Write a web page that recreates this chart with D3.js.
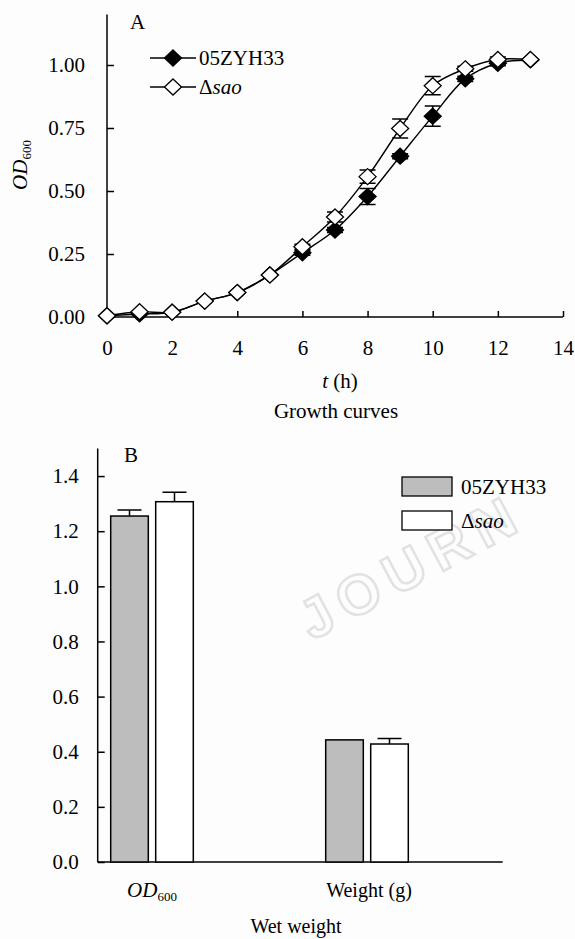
<!DOCTYPE html>
<meta charset="utf-8">
<body style="margin:0;background:#fdfdfd">
<style>
svg text { font-family: "Liberation Serif", "Times New Roman", Times, "DejaVu Serif", serif; font-size: 21px; fill: #000; }
.axis path, .axis line { stroke: #000; stroke-width: 1.5px; }
.axis text { font-family: "Liberation Serif", "Times New Roman", Times, "DejaVu Serif", serif; font-size: 21px; }
.curve { fill: none; stroke: #000; stroke-width: 1.4px; }
.err { stroke: #000; stroke-width: 1.5px; fill: none; }
</style>
<script src="https://cdn.jsdelivr.net/npm/d3@7"></script>
<script>

// growth curves (panel A)
var hours = [0, 1, 2, 3, 4, 5, 6, 7, 8, 9, 10, 11, 12, 13];
var wt = [0.005, 0.012, 0.019, 0.063, 0.097, 0.167, 0.255, 0.345, 0.478, 0.638, 0.797, 0.945, 1.007, 1.02];
var wtSd = [0, 0, 0, 0, 0, 0, 0.01, 0.01, 0.032, 0.01, 0.04, 0.01, 0.01, 0];
var mut = [0.005, 0.021, 0.019, 0.063, 0.097, 0.167, 0.279, 0.397, 0.557, 0.748, 0.918, 0.985, 1.022, 1.022];
var mutSd = [0, 0, 0, 0, 0, 0, 0.01, 0.02, 0.026, 0.038, 0.036, 0.01, 0.01, 0];
var xTicks = [0, 2, 4, 6, 8, 10, 12, 14];
var yTicksA = [0, 0.25, 0.5, 0.75, 1];

// wet weight (panel B)
var groups = ["OD600", "Weight"];
var strains = ["05ZYH33", "sao"];
var barWt = [1.255, 0.443];
var barWtSd = [0.022, 0];
var barMut = [1.307, 0.428];
var barMutSd = [0.034, 0.02];
var yTicksB = [0, 0.2, 0.4, 0.6, 0.8, 1.0, 1.2, 1.4];

var svg = d3.select("body").append("svg")
    .attr("width", 575)
    .attr("height", 939);

// faint watermark
svg.append("text")
    .attr("transform", "translate(312,641) rotate(-28)")
    .style("font-family", "'Liberation Sans', Arial, sans-serif")
    .style("font-weight", "900")
    .style("font-size", "56px")
    .style("letter-spacing", "10px")
    .style("fill", "#fdfdfd")
    .style("stroke", "#e2e2e2")
    .style("stroke-width", "2.5px")
    .text("JOURN");

function diamond(w, h) {
  return "M0," + (-h) + "L" + w + ",0L0," + h + "L" + (-w) + ",0Z";
}

// ---------- panel A ----------
var x = d3.scaleLinear().domain([0, 14]).range([107, 563]);
var y = d3.scaleLinear().domain([0, 1.2]).range([317, 14.6]);

svg.append("g").attr("class", "axis")
    .attr("transform", "translate(0," + y(0) + ")")
    .call(d3.axisBottom(x).tickValues(xTicks).tickSizeInner(-6).tickSizeOuter(0).tickPadding(23))
    .call(function(g) { g.select(".domain").attr("d", "M" + x(0) + ",0H" + x(14)); });

svg.append("g").attr("class", "axis")
    .attr("transform", "translate(" + x(0) + ",0)")
    .call(d3.axisLeft(y).tickValues(yTicksA).tickFormat(d3.format(".2f")).tickSizeInner(-7).tickSizeOuter(0).tickPadding(22))
    .call(function(g) { g.select(".domain").attr("d", "M0," + y(0) + "V" + y(1.2)); });

var line = d3.line()
    .x(function(d, i) { return x(hours[i]); })
    .y(function(d) { return y(d); })
    .curve(d3.curveCatmullRom.alpha(0.5));

var series = [
  {vals: wt, sd: wtSd, fill: "#000"},
  {vals: mut, sd: mutSd, fill: "#fff"}
];

series.forEach(function(s) {
  svg.append("path").datum(s.vals).attr("class", "curve").attr("d", line);
});

series.forEach(function(s) {
  var eb = svg.append("g");
  s.vals.forEach(function(v, i) {
    if (!s.sd[i]) return;
    var cx = x(hours[i]), t = y(v + s.sd[i]), b = y(v - s.sd[i]);
    eb.append("path").attr("class", "err")
      .attr("d", "M" + cx + "," + t + "V" + b + "M" + (cx - 8) + "," + t + "H" + (cx + 8) + "M" + (cx - 8) + "," + b + "H" + (cx + 8));
  });
});

series.forEach(function(s) {
  svg.append("g").selectAll("path")
    .data(s.vals)
    .enter().append("path")
    .attr("d", diamond(8.5, 8))
    .attr("transform", function(d, i) { return "translate(" + x(hours[i]) + "," + y(d) + ")"; })
    .style("fill", s.fill)
    .style("stroke", "#000")
    .style("stroke-width", 1.3);
});

svg.append("text").attr("x", 130).attr("y", 29).text("A");

// legend A
[{fill: "#000", label: "05ZYH33"}, {fill: "#fff", label: "sao"}].forEach(function(d, i) {
  var ly = 58 + i * 29;
  svg.append("line").attr("x1", 150).attr("x2", 196).attr("y1", ly).attr("y2", ly)
    .style("stroke", "#000").style("stroke-width", 1.4);
  svg.append("path").attr("d", diamond(8.5, 8)).attr("transform", "translate(173," + ly + ")")
    .style("fill", d.fill).style("stroke", "#000").style("stroke-width", 1.3);
  var t = svg.append("text").attr("x", 199).attr("y", ly).attr("dy", "0.35em");
  if (i === 0) t.text(d.label);
  else { t.append("tspan").text("\u0394"); t.append("tspan").style("font-style", "italic").text(d.label); }
});

// axis titles A
var yl = svg.append("text").attr("transform", "translate(27,165) rotate(-90)").attr("text-anchor", "middle");
yl.append("tspan").style("font-style", "italic").text("OD");
yl.append("tspan").attr("dy", 4).style("font-size", "13px").text("600");

var xl = svg.append("text").attr("x", 340).attr("y", 388).attr("text-anchor", "middle");
xl.append("tspan").style("font-style", "italic").text("t");
xl.append("tspan").text(" (h)");
svg.append("text").attr("x", 336).attr("y", 418).attr("text-anchor", "middle").text("Growth curves");

// ---------- panel B ----------
var y2 = d3.scaleLinear().domain([0, 1.5]).range([862, 448.5]);
var gx = d3.scalePoint().domain(groups).range([152, 367]);
var sx = d3.scaleBand().domain(strains).range([-41.3, 41.3]).paddingInner(0.1644);

svg.append("g").attr("class", "axis")
    .attr("transform", "translate(97.7,0)")
    .call(d3.axisLeft(y2).tickValues(yTicksB).tickFormat(d3.format(".1f")).tickSizeInner(-7).tickSizeOuter(0).tickPadding(19))
    .call(function(g) { g.select(".domain").attr("d", "M0," + y2(0) + "V" + y2(1.5)); });

svg.append("line").attr("x1", 97.7).attr("x2", 502.7).attr("y1", y2(0)).attr("y2", y2(0))
    .style("stroke", "#000").style("stroke-width", 1.5);

var barSeries = [
  {key: "05ZYH33", vals: barWt, sd: barWtSd, fill: "#bdbdbd"},
  {key: "sao", vals: barMut, sd: barMutSd, fill: "#fff"}
];

barSeries.forEach(function(s) {
  var g = svg.append("g");
  g.selectAll("rect").data(s.vals).enter().append("rect")
    .attr("x", function(d, i) { return gx(groups[i]) + sx(s.key); })
    .attr("width", sx.bandwidth())
    .attr("y", function(d) { return y2(d); })
    .attr("height", function(d) { return y2(0) - y2(d); })
    .style("fill", s.fill).style("stroke", "#000").style("stroke-width", 1.5);
  s.vals.forEach(function(v, i) {
    if (!s.sd[i]) return;
    var cx = gx(groups[i]) + sx(s.key) + sx.bandwidth() / 2, t = y2(v + s.sd[i]);
    g.append("path").attr("class", "err")
      .attr("d", "M" + cx + "," + y2(v) + "V" + t + "M" + (cx - 12) + "," + t + "H" + (cx + 12));
  });
});

svg.append("text").attr("x", 124).attr("y", 462).text("B");

// legend B
barSeries.forEach(function(s, i) {
  var ly = 477 + i * 34;
  svg.append("rect").attr("x", 402).attr("y", ly).attr("width", 50).attr("height", 19)
    .style("fill", s.fill).style("stroke", "#000").style("stroke-width", 1.3);
  var t = svg.append("text").attr("x", 461).attr("y", ly + 9.5).attr("dy", "0.35em");
  if (i === 0) t.text(s.key);
  else { t.append("tspan").text("\u0394"); t.append("tspan").style("font-style", "italic").text(s.key); }
});

// category labels
var c1 = svg.append("text").attr("x", gx("OD600")).attr("y", 897).attr("text-anchor", "middle");
c1.append("tspan").style("font-style", "italic").text("OD");
c1.append("tspan").attr("dy", 4).style("font-size", "13px").text("600");
svg.append("text").attr("x", gx("Weight") + 2).attr("y", 897).attr("text-anchor", "middle").style("font-size", "20px").text("Weight (g)");
svg.append("text").attr("x", 296).attr("y", 933).attr("text-anchor", "middle").style("font-size", "20px").text("Wet weight");

</script>
